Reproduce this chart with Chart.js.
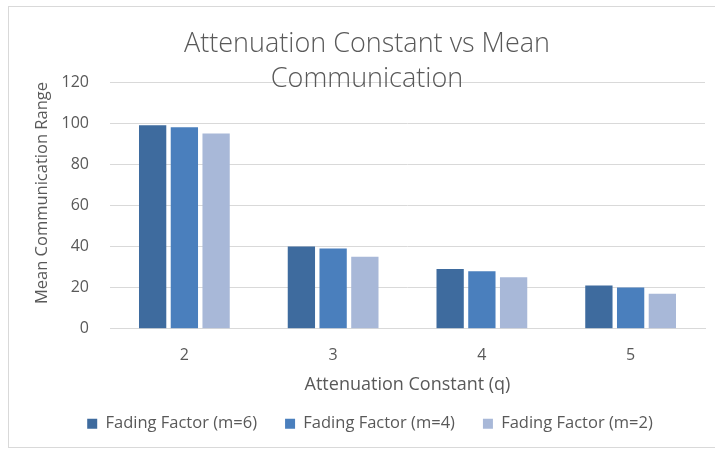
<!DOCTYPE html>
<html>
<head>
<meta charset="utf-8">
<script src="https://cdn.jsdelivr.net/npm/chart.js@4/dist/chart.umd.min.js"></script>
<style>
  html, body { margin: 0; padding: 0; background: #fff; }
  #frame { position: absolute; left: 8px; top: 6px; width: 715px; height: 442px;
           border: 1px solid #d9d9d9; box-sizing: border-box; }
  #wrap { position: absolute; left: 0; top: 0; width: 715px; height: 452px; }
</style>
</head>
<body>
<div id="frame"></div>
<div id="wrap"><canvas id="chart"></canvas></div>
<script>
// Data
const categories  = ['2', '3', '4', '5'];
const seriesNames = ['Fading Factor (m=6)', 'Fading Factor (m=4)', 'Fading Factor (m=2)'];
const fadingM6    = [99, 40, 29, 21];
const fadingM4    = [98, 39, 28, 20];
const fadingM2    = [95, 35, 25, 17];
const titleLines  = ['Attenuation Constant vs Mean', 'Communication'];

const colors   = ['#3E6B9E', '#4A7FBD', '#A8B8D8'];
const textGrey = '#595959';
const FONT     = '"Open Sans", "DejaVu Sans", sans-serif';

// Excel-style title that sits over the top of the plot area
const overlayTitle = {
  id: 'overlayTitle',
  afterDraw(chart) {
    const ctx = chart.ctx;
    ctx.save();
    ctx.font = '300 27px ' + FONT;
    ctx.fillStyle = textGrey;
    ctx.textAlign = 'center';
    ctx.textBaseline = 'middle';
    ctx.fillText(titleLines[0], 367, 44);
    ctx.fillText(titleLines[1], 367, 79);
    ctx.restore();
  }
};

new Chart(document.getElementById('chart'), {
  type: 'bar',
  data: {
    labels: categories,
    datasets: [fadingM6, fadingM4, fadingM2].map((d, i) => ({
      label: seriesNames[i],
      data: d,
      backgroundColor: colors[i],
      categoryPercentage: 0.64,
      barPercentage: 0.86
    }))
  },
  options: {
    responsive: true,
    maintainAspectRatio: false,
    animation: false,
    layout: { padding: { top: 82, right: 10, bottom: 10, left: 35 } },
    plugins: {
      title: { display: false },
      tooltip: { enabled: false },
      legend: {
        position: 'bottom',
        labels: {
          font: { family: FONT, size: 16.5 },
          color: textGrey,
          boxWidth: 10,
          boxHeight: 10,
          padding: 28
        }
      }
    },
    scales: {
      x: {
        grid: { display: false },
        border: { color: '#d9d9d9' },
        ticks: { font: { family: FONT, size: 16 }, color: textGrey, padding: 9 },
        title: {
          display: true,
          text: 'Attenuation Constant (q)',
          font: { family: FONT, size: 18 },
          color: textGrey,
          padding: { top: 0, bottom: -8 }
        }
      },
      y: {
        min: 0,
        max: 120,
        ticks: { stepSize: 20, font: { family: FONT, size: 16 }, color: textGrey, padding: 21 },
        grid: { color: '#d9d9d9', drawTicks: false },
        border: { display: false },
        title: {
          display: true,
          text: 'Mean Communication Range',
          font: { family: FONT, size: 16.5 },
          color: textGrey,
          align: 'end',
          padding: { top: -3, bottom: 0 }
        },
        afterFit(scale) { scale.width = 75; }
      }
    }
  },
  plugins: [overlayTitle]
});
</script>
</body>
</html>
